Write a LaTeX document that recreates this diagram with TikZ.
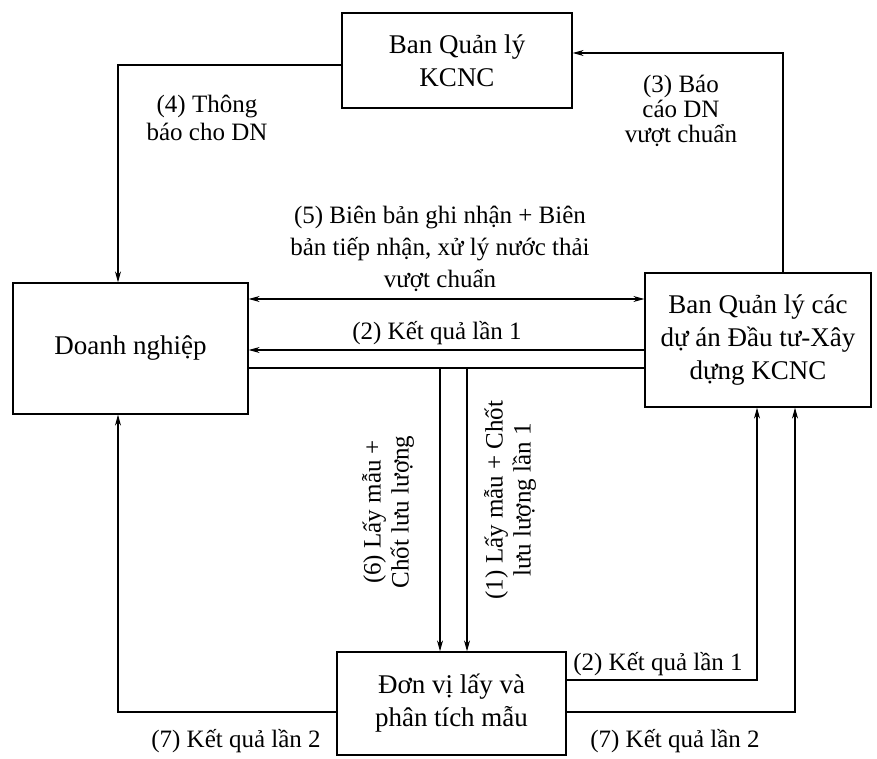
\documentclass[tikz,border=0pt]{standalone}
\usepackage{fontspec}
\setmainfont{Liberation Serif}
\usetikzlibrary{arrows.meta}
\begin{document}
\begin{tikzpicture}[x=1pt,y=-1pt,
  box/.style={draw,line width=1.3pt,inner sep=0pt,align=center,font=\fontsize{27}{33}\selectfont},
  lbl/.style={align=center,inner sep=0pt,font=\fontsize{25}{28}\selectfont},
  conn/.style={line width=1.1pt},
  arr/.style={conn,-{Stealth[length=11pt,width=6pt]}},
  darr/.style={conn,{Stealth[length=11pt,width=6pt]}-{Stealth[length=11pt,width=6pt]}}]
\useasboundingbox (0,0) rectangle (877,759);
% boxes
\node[box,minimum width=230pt,minimum height=95pt] (top) at (457,60.5) {Ban Quản lý\\KCNC};
\node[box,minimum width=235pt,minimum height=131pt] (dn) at (130.5,348.5) {Doanh nghiệp};
\node[box,minimum width=226pt,minimum height=134pt] (rb) at (758,340) {Ban Quản lý các\\dự án Đầu tư-Xây\\dựng KCNC};
\node[box,minimum width=229pt,minimum height=103pt] (dv) at (451.5,703.5) {Đơn vị lấy và\\phân tích mẫu};
% helper coordinates
\coordinate (y65) at (0,65);
\coordinate (y53) at (0,53);
\coordinate (y299) at (0,299);
\coordinate (y350) at (0,350);
\coordinate (y368) at (0,368);
\coordinate (y680) at (0,680);
\coordinate (y712) at (0,712);
\coordinate (x118) at (118,0);
\coordinate (x783) at (783,0);
\coordinate (x440) at (440,0);
\coordinate (x467) at (467,0);
\coordinate (x757) at (757,0);
\coordinate (x795) at (795,0);
% (4)
\draw[arr] (top.west |- y65) -- (x118 |- y65) -- (x118 |- dn.north);
% (3)
\draw[arr] (x783 |- rb.north) -- (x783 |- y53) -- (top.east |- y53);
% (5)
\draw[darr] (dn.east |- y299) -- (rb.west |- y299);
% (2) top
\draw[arr] (rb.west |- y350) -- (dn.east |- y350);
% line
\draw[conn] (dn.east |- y368) -- (rb.west |- y368);
% (6) and (1)
\draw[arr] (x440 |- y368) -- (x440 |- dv.north);
\draw[arr] (x467 |- y368) -- (x467 |- dv.north);
% (2) bottom
\draw[arr] (dv.east |- y680) -- (x757 |- y680) -- (x757 |- rb.south);
% (7) right
\draw[arr] (dv.east |- y712) -- (x795 |- y712) -- (x795 |- rb.south);
% (7) left
\draw[arr] (dv.west |- y712) -- (x118 |- y712) -- (x118 |- dn.south);
% labels
\node[lbl] (l4) at (207,118) {(4) Thông\\báo cho DN};
\node[lbl,font=\fontsize{25}{25}\selectfont] (l3) at (681,111) {(3) Báo\\cáo DN\\vượt chuẩn};
\node[lbl,font=\fontsize{25}{32}\selectfont] (l5) at (440,249) {(5) Biên bản ghi nhận + Biên\\bản tiếp nhận, xử lý nước thải\\vượt chuẩn};
\node[lbl] (l2a) at (437,333) {(2) Kết quả lần 1};
\node[lbl,rotate=90] (l6) at (388,512) {(6) Lấy mẫu +\\Chốt lưu lượng};
\node[lbl,rotate=90] (l1) at (510,500) {(1) Lấy mẫu + Chốt\\lưu lượng lần 1};
\node[lbl] (l2b) at (658,664) {(2) Kết quả lần 1};
\node[lbl] (l7r) at (675,741) {(7) Kết quả lần 2};
\node[lbl] (l7l) at (236,741) {(7) Kết quả lần 2};
\end{tikzpicture}
\end{document}
